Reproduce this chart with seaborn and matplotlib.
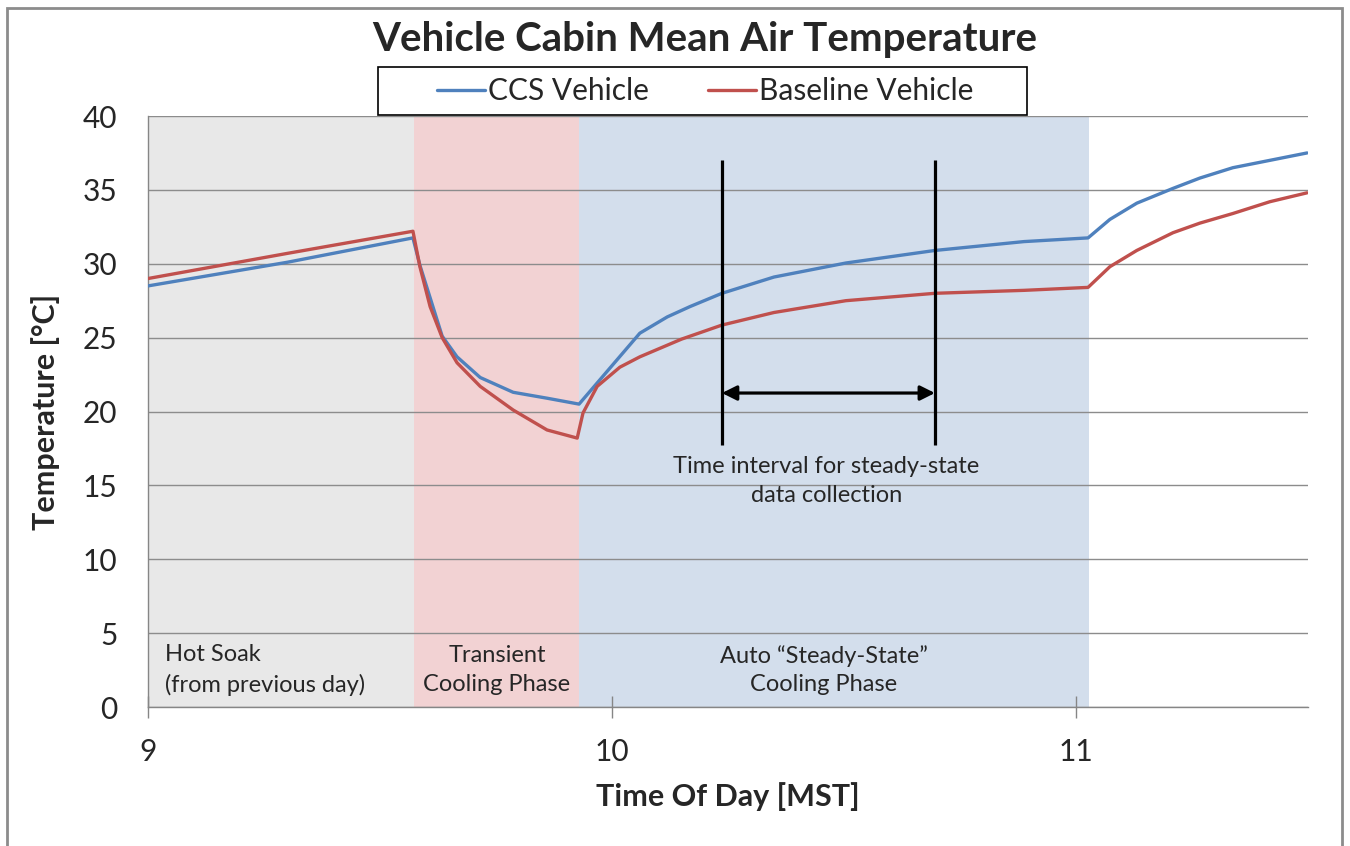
import numpy as np
import pandas as pd
import matplotlib
matplotlib.use("Agg")
import matplotlib.pyplot as plt
import matplotlib.patches as patches
from matplotlib.lines import Line2D
import seaborn as sns

# time of day in hours, temperatures in degC
ccs_time = [9.000, 9.300, 9.571, 9.586, 9.614, 9.634, 9.666, 9.716, 9.787, 9.860,
            9.929, 10.060, 10.119, 10.168, 10.237, 10.349, 10.504, 10.696, 10.888,
            11.026, 11.073, 11.131, 11.209, 11.267, 11.338, 11.418, 11.498]
ccs_temp = [28.5, 30.1, 31.75, 29.9, 27.1, 25.1, 23.7, 22.3, 21.3, 20.9,
            20.5, 25.3, 26.4, 27.1, 28.0, 29.1, 30.05, 30.9, 31.5,
            31.75, 33.0, 34.1, 35.1, 35.8, 36.5, 37.0, 37.5]

base_time = [9.000, 9.300, 9.571, 9.586, 9.608, 9.634, 9.666, 9.716, 9.787, 9.860,
             9.925, 9.9375, 9.968, 10.017, 10.060, 10.150, 10.237, 10.349, 10.504,
             10.696, 10.888, 11.026, 11.073, 11.131, 11.209, 11.267, 11.338, 11.418, 11.498]
base_temp = [29.0, 30.7, 32.2, 29.8, 27.1, 25.0, 23.3, 21.7, 20.1, 18.75,
             18.2, 19.9, 21.7, 23.0, 23.7, 24.9, 25.85, 26.7, 27.5,
             28.0, 28.2, 28.4, 29.8, 30.9, 32.1, 32.75, 33.4, 34.2, 34.8]

# test phases
phase_edges = [9.0, 9.573, 9.929, 11.028]
phase_colors = ["#E8E8E8", "#F2D2D3", "#D3DEEC"]
phase_labels = ["Hot Soak\n(from previous day)", "Transient\nCooling Phase",
                "Auto \u201cSteady-State\u201d\nCooling Phase"]

steady_start = 10.237
steady_end = 10.696

df = pd.concat([
    pd.DataFrame({"time": ccs_time, "temp": ccs_temp, "vehicle": "CCS Vehicle"}),
    pd.DataFrame({"time": base_time, "temp": base_temp, "vehicle": "Baseline Vehicle"}),
])

sns.set_style("white")
plt.rcParams["font.family"] = ["Lato", "DejaVu Sans"]

fig = plt.figure(figsize=(13.5, 8.46), dpi=100)
ax = fig.add_axes([148 / 1350, 1 - 707 / 846, 1160 / 1350, 591 / 846])

# shaded phases
for i in range(3):
    ax.axvspan(phase_edges[i], phase_edges[i + 1], color=phase_colors[i], lw=0, zorder=0)

ax.set_ylim(0, 40)
ax.set_xlim(9, 11.5)
ax.set_yticks(range(0, 41, 5))
ax.set_xticks([9, 10, 11])
ax.yaxis.grid(True, color="#8C8C8C", lw=1, zorder=1)
ax.set_axisbelow(True)

sns.lineplot(data=df, x="time", y="temp", hue="vehicle",
             palette={"CCS Vehicle": "#4F81BD", "Baseline Vehicle": "#C0504D"},
             lw=2.4, ax=ax, legend=False, zorder=3)

# steady-state interval markers
ax.vlines([steady_start, steady_end], 17.7, 37.0, color="black", lw=2.3, zorder=4)
ax.annotate("", xy=(steady_start, 21.25), xytext=(steady_end, 21.25),
            arrowprops=dict(arrowstyle="<|-|>", color="black", lw=2.3,
                            mutation_scale=22, shrinkA=0, shrinkB=0), zorder=4)
ax.text((steady_start + steady_end) / 2 - 0.005, 15.3,
        "Time interval for steady-state\ndata collection",
        ha="center", va="center", fontsize=17, linespacing=1.45)

# phase labels
ax.text(9.037, 2.5, phase_labels[0], ha="left", va="center", fontsize=17, linespacing=1.45)
ax.text(9.752, 2.5, phase_labels[1], ha="center", va="center", fontsize=17, linespacing=1.45)
ax.text(10.457, 2.5, phase_labels[2], ha="center", va="center", fontsize=17, linespacing=1.45)

# axes styling
for s in ["top", "right"]:
    ax.spines[s].set_visible(False)
for s in ["left", "bottom"]:
    ax.spines[s].set_color("#868686")
    ax.spines[s].set_linewidth(1)
ax.tick_params(axis="x", bottom=True, direction="inout", length=16, width=1,
               color="#868686", labelsize=21.5, pad=14)
ax.tick_params(axis="y", left=False, length=0, labelsize=21.5, pad=22)

ax.set_xlabel("Time Of Day [MST]", fontsize=22, fontweight="bold", labelpad=12)
ax.set_ylabel("Temperature [\u00b0C]", fontsize=22, fontweight="bold", labelpad=16)

fig.suptitle("Vehicle Cabin Mean Air Temperature", x=705 / 1350, y=1 - 40 / 846,
             va="center", fontsize=29, fontweight="bold")

# legend
handles = [Line2D([], [], color="#4F81BD", lw=2.4), Line2D([], [], color="#C0504D", lw=2.4)]
ax.legend(handles, ["CCS Vehicle", "Baseline Vehicle"], ncol=2, frameon=False,
          loc="center", bbox_to_anchor=((705 - 148) / 1160, (707 - 91) / 591),
          fontsize=21.5, handlelength=1.6, handletextpad=0.1, columnspacing=2.0)
ax.add_patch(patches.Rectangle(((378 - 148) / 1160, (707 - 115) / 591), 649 / 1160, 48 / 591,
                               transform=ax.transAxes, fill=False, edgecolor="black",
                               lw=1.2, clip_on=False, zorder=5))

# outer chart frame
fig.add_artist(patches.Rectangle((7 / 1350, -0.01), 1335 / 1350, 1 - 8 / 846 + 0.01,
                                 transform=fig.transFigure, fill=False,
                                 edgecolor="#8C8C8C", lw=2))

fig.savefig("out.png", dpi=100)
